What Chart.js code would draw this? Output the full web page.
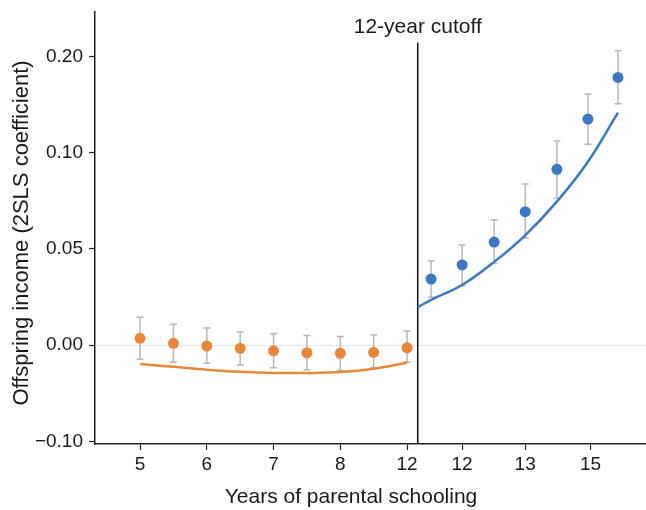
<!DOCTYPE html>
<html lang="en">
<head>
  <meta charset="UTF-8">
  <title>Offspring income by parental schooling</title>
  <script src="https://cdn.jsdelivr.net/npm/chart.js"></script>
  <style>
    body { margin: 0; background: #fff; }
  </style>
</head>
<body>
  <canvas id="rdChart" width="646" height="510"></canvas>

  <script>
    // left of cutoff (half-year bins, 0 = 5 years)
    const leftX = [0, 1, 2, 3, 4, 5, 6, 7, 8];
    const leftCoef = [0.0035, 0.0009, -0.0005, -0.0017, -0.003, -0.004, -0.0043, -0.0038, -0.0014];
    const leftHigh = [0.0144, 0.0108, 0.0088, 0.0068, 0.0059, 0.005, 0.0045, 0.0052, 0.0073];
    const leftLow = [-0.0074, -0.009, -0.0095, -0.0104, -0.0118, -0.013, -0.0132, -0.0118, -0.0088];
    const leftFit = [-0.0099, -0.0113, -0.0128, -0.0139, -0.0145, -0.0145, -0.014, -0.0123, -0.0092];

    // right of cutoff
    const rightX = [8.72, 9.65, 10.61, 11.54, 12.49, 13.42, 14.32];
    const rightCoef = [0.0343, 0.0416, 0.0535, 0.0693, 0.0913, 0.1174, 0.139];
    const rightHigh = [0.0436, 0.052, 0.065, 0.0836, 0.106, 0.1304, 0.1529];
    const rightLow = [0.0248, 0.0308, 0.0424, 0.0556, 0.0762, 0.1043, 0.1254];
    const rightFitX = [8.32, 8.72, 9.65, 10.61, 11.54, 12.49, 13.42, 14.32];
    const rightFit = [0.0196, 0.0235, 0.0312, 0.0432, 0.057, 0.0745, 0.0952, 0.1207];

    const cutoffX = 8.32;
    const cutoffTop = 0.157;
    const cutoffLabel = '12-year cutoff';
    const xTitle = 'Years of parental schooling';
    const yTitle = 'Offspring income (2SLS coefficient)';

    const xTickVals = [0, 2, 4, 6, 8, 9.65, 11.54, 13.5];
    const xTickLabels = ['5', '6', '7', '8', '12', '12', '13', '15'];
    const yTickVals = [-0.05, 0, 0.05, 0.10, 0.15];
    const yTickLabels = ['\u22120.10', '0.00', '0.05', '0.10', '0.20'];

    const yMin = -0.0514, yMax = 0.173;
    const orange = '#e8873a';
    const blue = '#3a78c3';

    Chart.defaults.font.family = "'Liberation Sans', Arial, sans-serif";
    Chart.defaults.color = '#1a1a1a';

    const pts = (xs, ys) => xs.map((v, i) => ({ x: v, y: ys[i] }));

    // error bars drawn under the points
    const errorBars = {
      id: 'errorBars',
      beforeDatasetsDraw(chart) {
        const { ctx, scales: { x, y } } = chart;
        ctx.save();
        ctx.strokeStyle = '#b8b8b8';
        ctx.lineWidth = 1.5;
        const draw = (xs, lo, hi) => xs.forEach((v, i) => {
          const px = x.getPixelForValue(v);
          const top = y.getPixelForValue(hi[i]);
          const bot = y.getPixelForValue(lo[i]);
          ctx.beginPath();
          ctx.moveTo(px, top); ctx.lineTo(px, bot);
          ctx.moveTo(px - 3.5, top); ctx.lineTo(px + 3.5, top);
          ctx.moveTo(px - 3.5, bot); ctx.lineTo(px + 3.5, bot);
          ctx.stroke();
        });
        draw(leftX, leftLow, leftHigh);
        draw(rightX, rightLow, rightHigh);
        ctx.restore();
      }
    };

    // cutoff label and axis titles
    const extraText = {
      id: 'extraText',
      afterDraw(chart) {
        const { ctx, chartArea, scales: { x } } = chart;
        ctx.save();
        ctx.fillStyle = '#1a1a1a';
        ctx.textAlign = 'center';
        ctx.textBaseline = 'middle';
        ctx.font = "21px 'Liberation Sans', Arial, sans-serif";
        ctx.fillText(cutoffLabel, x.getPixelForValue(cutoffX), chartArea.top + 15);
        ctx.fillText(xTitle, 351, 497);
        ctx.font = "22px 'Liberation Sans', Arial, sans-serif";
        ctx.translate(22, 233);
        ctx.rotate(-Math.PI / 2);
        ctx.fillText(yTitle, 0, 0);
        ctx.restore();
      }
    };

    new Chart(document.getElementById('rdChart'), {
      type: 'line',
      data: {
        datasets: [
          {
            data: pts(leftX, leftFit),
            borderColor: orange, borderWidth: 2.5,
            pointRadius: 0, tension: 0.4
          },
          {
            data: pts(rightFitX, rightFit),
            borderColor: blue, borderWidth: 2.5,
            pointRadius: 0, tension: 0.4
          },
          {
            data: [{ x: cutoffX, y: yMin }, { x: cutoffX, y: cutoffTop }],
            borderColor: '#111', borderWidth: 1.5, pointRadius: 0
          },
          {
            data: pts(leftX, leftCoef),
            showLine: false, pointRadius: 5.5, pointBorderWidth: 0,
            pointBackgroundColor: orange, pointBorderColor: orange
          },
          {
            data: pts(rightX, rightCoef),
            showLine: false, pointRadius: 5.5, pointBorderWidth: 0,
            pointBackgroundColor: blue, pointBorderColor: blue
          }
        ]
      },
      options: {
        responsive: false,
        animation: false,
        layout: { autoPadding: false, padding: { top: 12, right: 0, bottom: 0, left: 0 } },
        plugins: {
          legend: { display: false },
          tooltip: { enabled: false }
        },
        scales: {
          x: {
            type: 'linear',
            min: -1.35,
            max: 15.16,
            afterBuildTicks: (scale) => { scale.ticks = xTickVals.map(v => ({ value: v })); },
            afterFit: (scale) => {
              scale.height = 66;
              scale.paddingLeft = 0;
              scale.paddingRight = 0;
            },
            ticks: {
              autoSkip: false, maxRotation: 0, padding: 3,
              font: { size: 19 }, color: '#1a1a1a',
              callback: (val, i) => xTickLabels[i]
            },
            grid: {
              color: 'rgba(0,0,0,0)', tickColor: '#222', tickLength: 6, tickWidth: 1.2
            },
            border: { display: true, color: '#222', width: 1.5 }
          },
          y: {
            min: yMin,
            max: yMax,
            afterBuildTicks: (scale) => { scale.ticks = yTickVals.map(v => ({ value: v })); },
            afterFit: (scale) => {
              scale.width = 95;
              scale.paddingTop = 0;
              scale.paddingBottom = 0;
            },
            ticks: {
              padding: 6, font: { size: 19 }, color: '#1a1a1a',
              callback: (val, i) => yTickLabels[i]
            },
            grid: {
              color: (c) => (c.tick && Math.abs(c.tick.value) < 1e-9 ? '#e6e6e6' : 'rgba(0,0,0,0)'),
              tickColor: '#222', tickLength: 6, tickWidth: 1.2
            },
            border: { display: true, color: '#222', width: 1.5 }
          }
        }
      },
      plugins: [errorBars, extraText]
    });
  </script>
</body>
</html>
